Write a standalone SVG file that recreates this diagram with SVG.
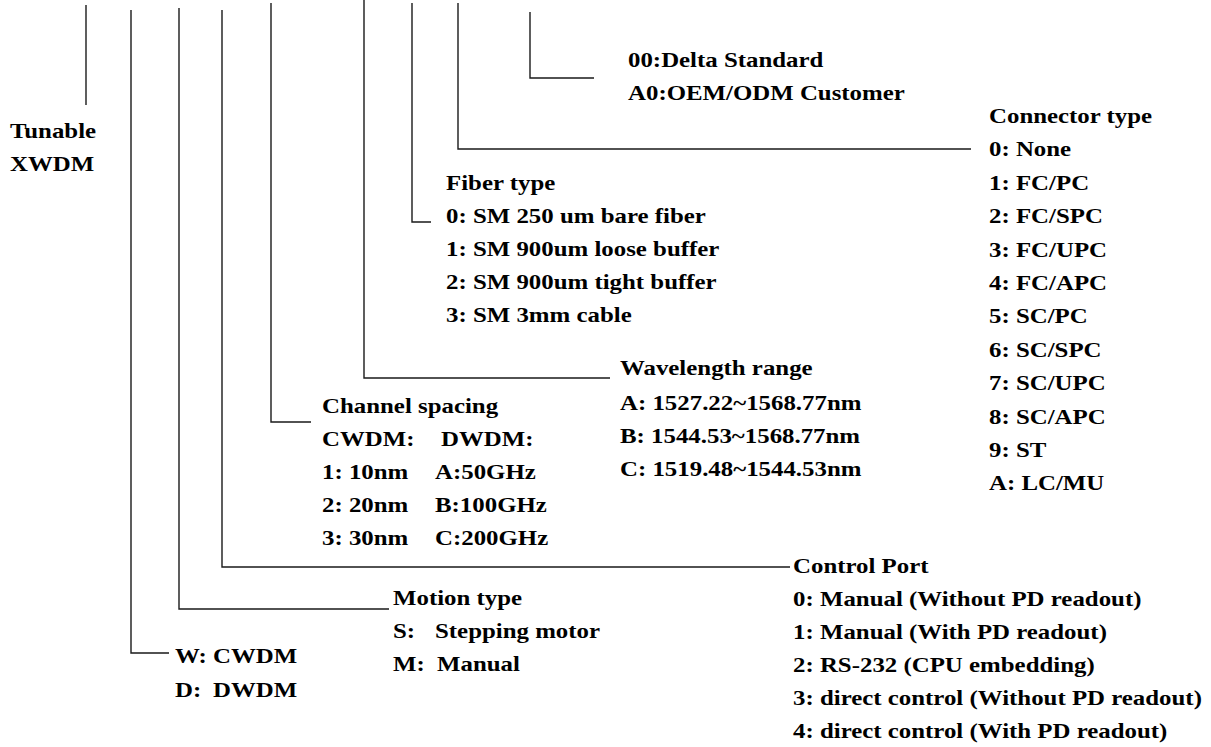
<svg xmlns="http://www.w3.org/2000/svg" width="1211" height="747" viewBox="0 0 1211 747">
<style>
.t{font-family:"Liberation Serif","Times New Roman",serif;font-weight:bold;font-size:22px;fill:#000}
.c{fill:none;stroke:#1a1a1a;stroke-width:1.4}
</style>
<rect width="1211" height="747" fill="#fff"/>
<g id="connectors">
<path class="c" d="M86,5V105"/>
<path class="c" d="M131,10V653H169"/>
<path class="c" d="M179,8V609H389"/>
<path class="c" d="M222,10V567H790"/>
<path class="c" d="M271,3V422H311"/>
<path class="c" d="M364,0V378H610"/>
<path class="c" d="M412,3V222H431"/>
<path class="c" d="M458,3V149H971"/>
<path class="c" d="M530,12V78H594"/>
</g>
<g id="product">
<text class="t" transform="translate(10,138) scale(1.13,1)">Tunable</text>
<text class="t" transform="translate(10,171) scale(1.13,1)">XWDM</text>
</g>
<g id="customer">
<text class="t" transform="translate(628,67) scale(1.13,1)">00:Delta Standard</text>
<text class="t" transform="translate(628,100) scale(1.13,1)">A0:OEM/ODM Customer</text>
</g>
<g id="connector-type">
<text class="t" transform="translate(989,123) scale(1.13,1)">Connector type</text>
<text class="t" transform="translate(989,156.4) scale(1.13,1)">0: None</text>
<text class="t" transform="translate(989,189.8) scale(1.13,1)">1: FC/PC</text>
<text class="t" transform="translate(989,223.2) scale(1.13,1)">2: FC/SPC</text>
<text class="t" transform="translate(989,256.6) scale(1.13,1)">3: FC/UPC</text>
<text class="t" transform="translate(989,290) scale(1.13,1)">4: FC/APC</text>
<text class="t" transform="translate(989,323.4) scale(1.13,1)">5: SC/PC</text>
<text class="t" transform="translate(989,356.8) scale(1.13,1)">6: SC/SPC</text>
<text class="t" transform="translate(989,390.2) scale(1.13,1)">7: SC/UPC</text>
<text class="t" transform="translate(989,423.6) scale(1.13,1)">8: SC/APC</text>
<text class="t" transform="translate(989,457) scale(1.13,1)">9: ST</text>
<text class="t" transform="translate(989,490.4) scale(1.13,1)">A: LC/MU</text>
</g>
<g id="fiber-type">
<text class="t" transform="translate(446,190) scale(1.13,1)">Fiber type</text>
<text class="t" transform="translate(446,223) scale(1.13,1)">0: SM 250 um bare fiber</text>
<text class="t" transform="translate(446,256) scale(1.13,1)">1: SM 900um loose buffer</text>
<text class="t" transform="translate(446,289) scale(1.13,1)">2: SM 900um tight buffer</text>
<text class="t" transform="translate(446,322) scale(1.13,1)">3: SM 3mm cable</text>
</g>
<g id="wavelength-range">
<text class="t" transform="translate(620,375) scale(1.13,1)">Wavelength range</text>
<text class="t" transform="translate(620,410) scale(1.13,1)">A: 1527.22~1568.77nm</text>
<text class="t" transform="translate(620,443) scale(1.13,1)">B: 1544.53~1568.77nm</text>
<text class="t" transform="translate(620,476) scale(1.13,1)">C: 1519.48~1544.53nm</text>
</g>
<g id="channel-spacing">
<text class="t" transform="translate(322,413) scale(1.13,1)">Channel spacing</text>
<text class="t" transform="translate(322,446) scale(1.13,1)">CWDM:</text>
<text class="t" transform="translate(441,446) scale(1.13,1)">DWDM:</text>
<text class="t" transform="translate(322,479) scale(1.13,1)">1: 10nm</text>
<text class="t" transform="translate(435,479) scale(1.13,1)">A:50GHz</text>
<text class="t" transform="translate(322,512) scale(1.13,1)">2: 20nm</text>
<text class="t" transform="translate(435,512) scale(1.13,1)">B:100GHz</text>
<text class="t" transform="translate(322,545) scale(1.13,1)">3: 30nm</text>
<text class="t" transform="translate(435,545) scale(1.13,1)">C:200GHz</text>
</g>
<g id="control-port">
<text class="t" transform="translate(793,573) scale(1.13,1)">Control Port</text>
<text class="t" transform="translate(793,606) scale(1.13,1)">0: Manual (Without PD readout)</text>
<text class="t" transform="translate(793,639) scale(1.13,1)">1: Manual (With PD readout)</text>
<text class="t" transform="translate(793,672) scale(1.13,1)">2: RS-232 (CPU embedding)</text>
<text class="t" transform="translate(793,705) scale(1.13,1)">3: direct control (Without PD readout)</text>
<text class="t" transform="translate(793,738) scale(1.13,1)">4: direct control (With PD readout)</text>
</g>
<g id="motion-type">
<text class="t" transform="translate(393,605) scale(1.13,1)">Motion type</text>
<text class="t" transform="translate(393,638) scale(1.13,1)">S:</text>
<text class="t" transform="translate(435,638) scale(1.13,1)">Stepping motor</text>
<text class="t" transform="translate(393,671) scale(1.13,1)">M:</text>
<text class="t" transform="translate(437,671) scale(1.13,1)">Manual</text>
</g>
<g id="type">
<text class="t" transform="translate(175,663) scale(1.13,1)">W:</text>
<text class="t" transform="translate(213,663) scale(1.13,1)">CWDM</text>
<text class="t" transform="translate(175,697) scale(1.13,1)">D:</text>
<text class="t" transform="translate(213,697) scale(1.13,1)">DWDM</text>
</g>
</svg>
